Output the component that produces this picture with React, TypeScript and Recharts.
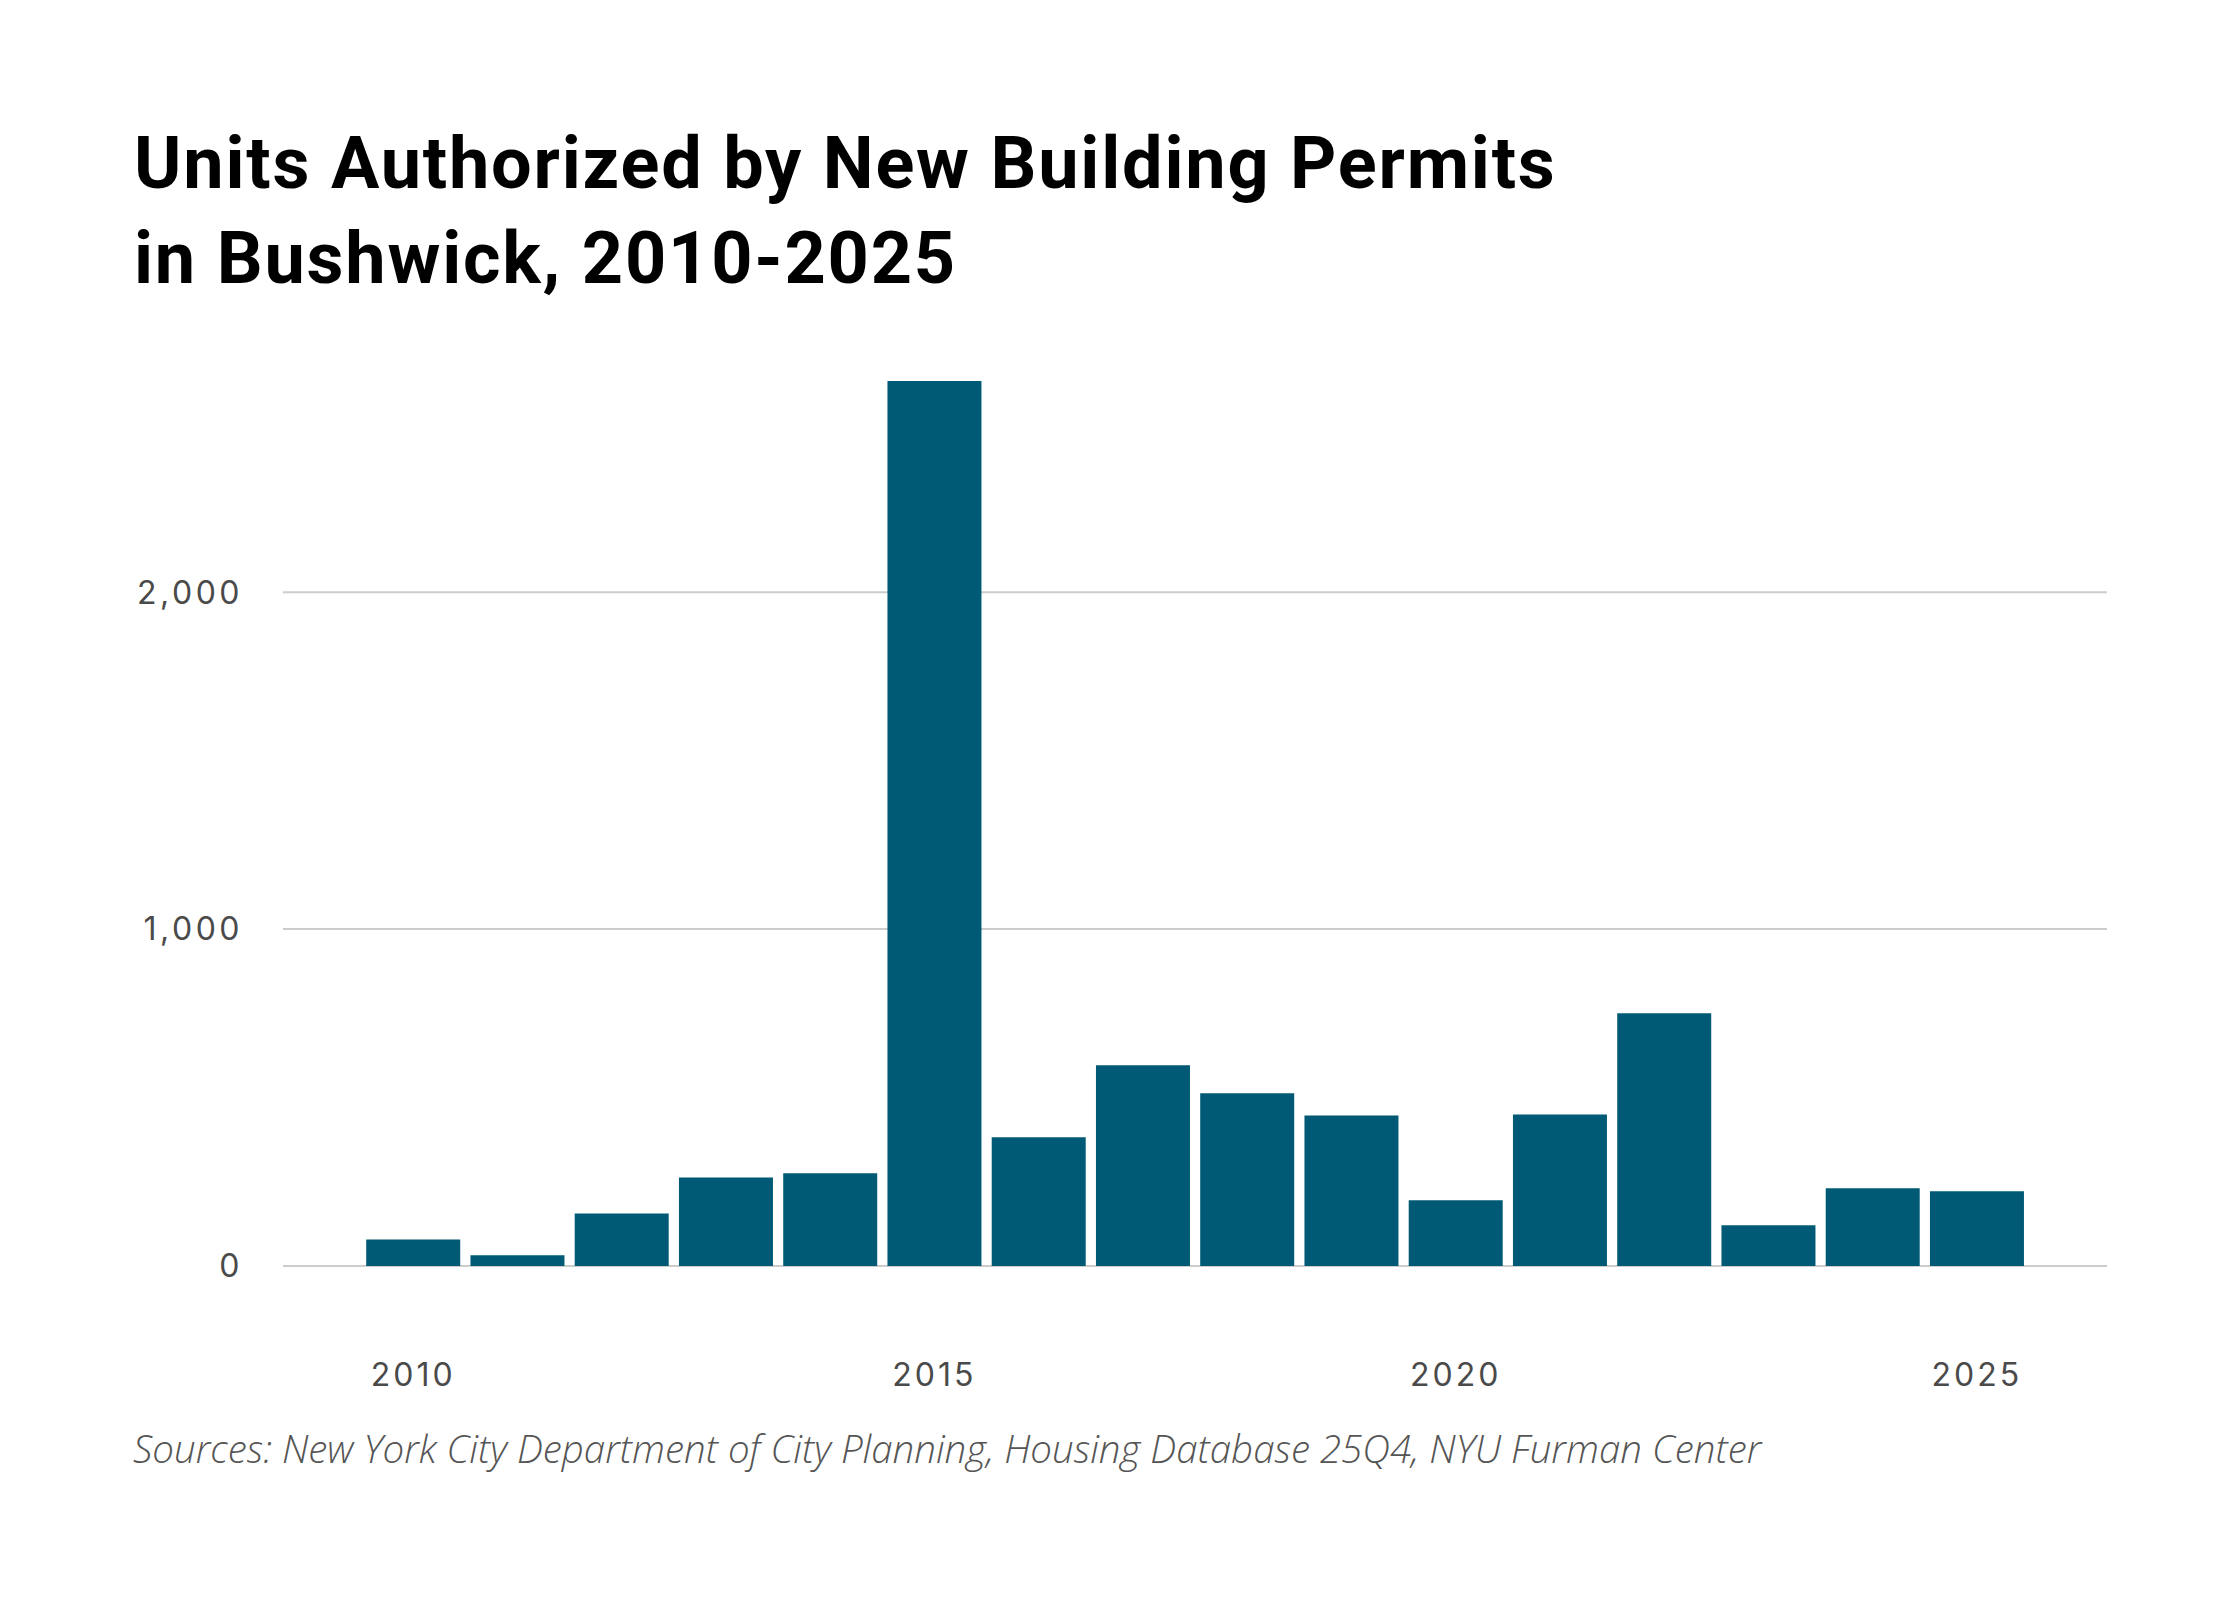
import React from "react";
import { BarChart, Bar, XAxis, YAxis, CartesianGrid } from "recharts";

const years = [
  2010, 2011, 2012, 2013, 2014, 2015, 2016, 2017, 2018, 2019, 2020, 2021, 2022,
  2023, 2024, 2025,
];
const units = [
  79, 32, 156, 263, 275, 2627, 382, 596, 513, 447, 195, 450, 750, 121, 231, 222,
];
const yTicks = [0, 1000, 2000];

const data = years.map((year, i) => ({ year, units: units[i] }));

const BAR_COLOR = "#015a75";
const GRID_COLOR = "#cccccc";
const LABEL_COLOR = "#4a4a4a";

// grid line renderer: skip the line on the plot's top edge (not a tick)
const gridLine = (p: any) => {
  if (typeof p.y === "number" && Math.abs(p.y1 - p.y) < 1) {
    return <g key={p.key} />;
  }
  return (
    <line
      key={p.key}
      x1={p.x1}
      y1={p.y1}
      x2={p.x2}
      y2={p.y2}
      stroke={GRID_COLOR}
      strokeWidth={2}
    />
  );
};

export default function App() {
  return (
    <div
      style={{
        position: "absolute",
        left: 0,
        top: 0,
        width: 2240,
        height: 1600,
        background: "#ffffff",
      }}
    >
      <div
        style={{
          position: "absolute",
          left: 134,
          top: 116,
          fontFamily: "Roboto, sans-serif",
          fontWeight: 700,
          fontSize: 72,
          letterSpacing: 1.8,
          lineHeight: "95px",
          color: "#000000",
          whiteSpace: "nowrap",
        }}
      >
        <div>Units Authorized by New Building Permits</div>
        <div>in Bushwick, 2010-2025</div>
      </div>

      <div style={{ position: "absolute", left: 0, top: 0 }}>
        <BarChart
          width={2240}
          height={1416}
          data={data}
          margin={{ top: 381, right: 133, bottom: 0, left: 0 }}
          barCategoryGap="5%"
        >
          <CartesianGrid
            vertical={false}
            syncWithTicks
            stroke={GRID_COLOR}
            strokeWidth={2}
            horizontal={gridLine}
          />
          <XAxis
            dataKey="year"
            interval={4}
            axisLine={false}
            tickLine={false}
            tickMargin={91}
            height={150}
            padding={{ left: 78, right: 78 }}
            tick={{
              fill: LABEL_COLOR,
              fontSize: 32,
              fontFamily: "Inter, sans-serif",
              letterSpacing: 3,
            }}
          />
          <YAxis
            width={283}
            domain={[0, "dataMax"]}
            ticks={yTicks}
            axisLine={false}
            tickLine={false}
            tickMargin={34}
            tickFormatter={(v: number) => v.toLocaleString("en-US")}
            tick={{
              fill: LABEL_COLOR,
              fontSize: 32,
              fontFamily: "Inter, sans-serif",
              letterSpacing: 3.5,
            }}
          />
          <Bar dataKey="units" fill={BAR_COLOR} isAnimationActive={false} />
        </BarChart>
      </div>

      <div
        style={{
          position: "absolute",
          left: 133,
          top: 1422,
          fontFamily: "'Open Sans', sans-serif",
          fontStyle: "italic",
          fontWeight: 300,
          fontSize: 38.5,
          color: "#555555",
          whiteSpace: "nowrap",
        }}
      >
        Sources: New York City Department of City Planning, Housing Database
        25Q4, NYU Furman Center
      </div>
    </div>
  );
}
